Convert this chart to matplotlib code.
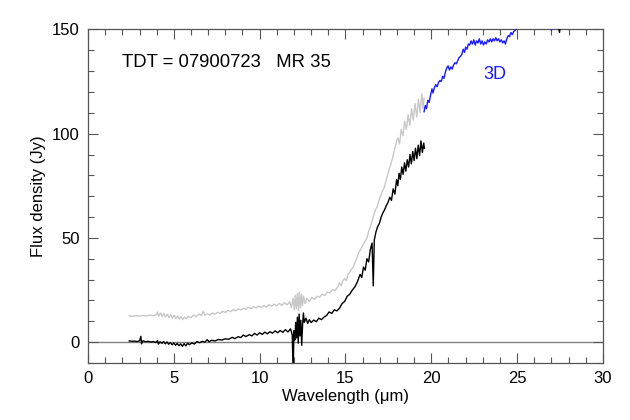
import matplotlib
matplotlib.use("Agg")
import matplotlib.pyplot as plt
from matplotlib.ticker import MultipleLocator

plt.rcParams['font.family'] = ['Liberation Sans', 'DejaVu Sans']

# SWS spectrum (black)
sws_x = [2.40, 2.55, 2.70, 2.85, 3.00, 3.08, 3.12, 3.20, 3.35, 3.50, 3.65, 3.80, 3.95, 4.05, 4.10,
         4.20, 4.30, 4.40, 4.50, 4.60, 4.70, 4.80, 4.90, 5.00, 5.10, 5.20, 5.30, 5.40, 5.50, 5.60,
         5.70, 5.80, 5.90, 6.05, 6.20, 6.35, 6.50, 6.65, 6.80, 6.95, 7.05, 7.20, 7.40, 7.60, 7.80,
         8.00, 8.20, 8.40, 8.55, 8.75, 8.90, 9.05, 9.20, 9.40, 9.55, 9.70, 9.85, 10.00, 10.15, 10.30,
         10.45, 10.60, 10.75, 10.90, 11.05, 11.20, 11.35, 11.50, 11.65, 11.80, 11.90, 11.95, 12.00,
         12.05, 12.10, 12.15, 12.20, 12.25, 12.30, 12.35, 12.40, 12.45, 12.50, 12.55, 12.60, 12.70,
         12.80, 12.90, 13.00, 13.15, 13.30, 13.45, 13.60, 13.75, 13.90, 14.05, 14.20, 14.35, 14.50,
         14.65, 14.80, 14.95, 15.10, 15.25, 15.40, 15.55, 15.70, 15.85, 15.95, 16.05, 16.15, 16.25,
         16.35, 16.45, 16.55, 16.62, 16.68, 16.78, 16.88, 16.98, 17.08, 17.18, 17.28, 17.38, 17.48,
         17.58, 17.68, 17.78, 17.88, 17.98, 18.05, 18.12, 18.20, 18.28, 18.36, 18.44, 18.52, 18.60,
         18.68, 18.76, 18.84, 18.92, 19.00, 19.08, 19.16, 19.24, 19.32, 19.40, 19.48, 19.56, 19.60]
sws_y = [0.6, 0.4, 0.5, 0.3, 0.6, 2.8, -0.8, 0.7, 0.2, 0.4, 0.1, 0.3, -0.2, 0.8, -0.9,
         0.2, -0.6, 0.3, -0.8, 0.1, -1.0, -0.2, -1.3, -0.4, -1.5, -0.6, -1.7, -0.8, -2.0, -0.7,
         -1.8, -0.5, -1.2, -0.4, -0.9, 0.3, -0.3, 0.4, 0.0, 1.2, 0.2, 0.9, 0.6, 1.3, 1.0,
         1.6, 1.4, 2.3, 1.7, 2.6, 2.2, 3.4, 2.7, 3.6, 3.0, 4.2, 3.4, 4.5, 3.7, 4.8,
         4.0, 5.0, 4.3, 5.4, 4.5, 5.6, 4.7, 6.0, 4.9, 6.4, 3.5, -15.0, 5.5,
         1.0, 9.5, 2.0, 12.0, -0.5, 13.5, 3.0, 10.5, -1.5, 8.0, 14.0, 9.5, 11.5,
         9.0, 10.8, 9.4, 10.6, 9.8, 11.5, 10.8, 12.0, 12.8, 14.5, 13.8, 15.5, 15.0,
         16.2, 18.5, 19.5, 22.0, 23.0, 25.0, 26.5, 29.0, 32.5, 31.0, 36.0, 34.5, 40.0,
         38.5, 44.5, 47.5, 27.0, 49.0, 53.0, 55.5, 57.0, 60.0, 62.0, 63.5, 65.5, 67.0,
         69.5, 68.0, 73.5, 71.0, 78.0, 75.0, 81.0, 78.0, 84.0, 80.5, 86.0, 82.0, 87.5,
         84.0, 90.0, 85.5, 91.5, 87.0, 93.0, 88.0, 94.5, 89.5, 96.5, 91.0, 95.5, 93.0]

# Grey spectrum
grey_x = [2.40, 2.60, 2.80, 3.00, 3.20, 3.40, 3.60, 3.80, 4.00, 4.05, 4.12, 4.22, 4.32, 4.42, 4.52,
          4.62, 4.72, 4.82, 4.92, 5.02, 5.12, 5.22, 5.32, 5.42, 5.52, 5.62, 5.72, 5.85, 6.00, 6.15,
          6.30, 6.45, 6.60, 6.72, 6.80, 6.95, 7.10, 7.25, 7.40, 7.55, 7.70, 7.85, 8.00, 8.15, 8.30,
          8.45, 8.60, 8.75, 8.90, 9.05, 9.20, 9.35, 9.50, 9.65, 9.80, 9.95, 10.10, 10.25, 10.40,
          10.55, 10.70, 10.85, 11.00, 11.15, 11.30, 11.45, 11.60, 11.75, 11.85, 11.95, 12.02, 12.08,
          12.14, 12.20, 12.26, 12.32, 12.38, 12.44, 12.50, 12.56, 12.65, 12.75, 12.90, 13.05, 13.20,
          13.35, 13.50, 13.65, 13.80, 13.95, 14.10, 14.25, 14.40, 14.55, 14.65, 14.75, 14.85, 14.95,
          15.05, 15.15, 15.25, 15.35, 15.45, 15.55, 15.65, 15.75, 15.85, 15.95, 16.05, 16.15, 16.25,
          16.35, 16.45, 16.55, 16.65, 16.75, 16.85, 16.95, 17.05, 17.15, 17.25, 17.35, 17.45, 17.55,
          17.65, 17.75, 17.85, 17.95, 18.05, 18.15, 18.25, 18.35, 18.45, 18.55, 18.65, 18.75, 18.85,
          18.95, 19.05, 19.15, 19.25, 19.35, 19.45, 19.52, 19.58]
grey_y = [12.6, 12.4, 12.7, 12.5, 12.8, 12.6, 12.9, 12.7, 13.2, 14.5, 12.4, 14.0, 12.3, 13.8, 12.0,
          13.5, 11.8, 13.2, 11.5, 13.0, 11.2, 12.6, 11.0, 12.3, 10.8, 12.0, 11.2, 12.4, 11.8, 13.0,
          12.2, 13.5, 12.8, 14.8, 12.9, 13.6, 13.0, 14.0, 13.4, 14.3, 13.8, 14.8, 14.2, 15.2, 14.6,
          15.6, 15.0, 16.0, 15.4, 16.3, 15.7, 16.8, 16.0, 17.0, 16.4, 17.4, 16.6, 17.6, 16.9,
          18.0, 17.2, 18.3, 17.4, 18.6, 17.6, 19.0, 17.8, 19.4, 16.5, 21.0, 15.5, 22.5,
          16.0, 23.5, 15.0, 24.0, 16.5, 23.0, 17.5, 22.0, 18.5, 21.0, 19.5, 21.5, 20.5,
          22.0, 21.6, 23.0, 22.4, 24.0, 23.6, 25.2, 24.8, 26.5, 28.5, 27.0, 29.5, 30.5,
          29.5, 32.5, 33.5, 35.0, 36.0, 38.0, 40.0, 42.5, 44.0, 45.5, 47.0, 48.5, 50.0,
          53.0, 55.5, 58.0, 61.0, 63.5, 65.0, 68.0, 70.0, 72.5, 74.0, 77.0, 80.0, 83.0,
          85.5, 88.5, 92.0, 95.5, 98.0, 95.0, 102.0, 99.0, 106.0, 102.0, 109.0, 104.0, 112.0,
          106.5, 114.5, 108.0, 116.5, 110.0, 119.0, 112.0, 117.0]

# LWS spectrum (blue)
lws_x = [19.58, 19.65, 19.72, 19.80, 19.88, 19.96, 20.04, 20.10, 20.18, 20.26, 20.34, 20.42, 20.50,
         20.58, 20.66, 20.74, 20.82, 20.90, 20.98, 21.06, 21.14, 21.22, 21.30, 21.38, 21.46, 21.54,
         21.62, 21.70, 21.78, 21.86, 21.94, 22.00, 22.08, 22.16, 22.24, 22.32, 22.40, 22.48, 22.56,
         22.64, 22.72, 22.80, 22.88, 22.96, 23.04, 23.12, 23.20, 23.28, 23.36, 23.44, 23.52, 23.60,
         23.68, 23.76, 23.84, 23.92, 24.00, 24.08, 24.16, 24.24, 24.32, 24.40, 24.48, 24.56, 24.64,
         24.72, 24.80, 24.88, 24.96, 25.04, 25.20, 25.50, 26.00, 26.50, 26.90, 26.98, 27.04, 27.50]
lws_y = [110.5, 113.5, 112.0, 116.0, 115.0, 118.5, 121.5, 119.5, 122.0, 123.5, 122.5, 124.5, 125.5,
         125.0, 127.5, 126.5, 129.5, 131.5, 132.5, 130.5, 132.0, 131.0, 133.0, 134.0, 133.5, 135.0,
         136.5, 137.0, 138.0, 140.5, 139.0, 141.5, 140.5, 143.0, 142.5, 144.5, 143.0, 145.0, 142.5,
         144.5, 143.5, 145.5, 143.0, 144.5, 142.5, 144.0, 143.0, 145.0, 144.0, 145.5, 144.0, 145.5,
         144.5, 146.0, 144.5, 145.5, 144.0, 145.0, 143.5, 144.5, 143.0, 145.5, 147.0, 146.5, 148.5,
         147.5, 149.0, 149.5, 150.5, 151.0, 152.5, 154.0, 155.0, 154.0, 152.0, 149.8, 152.0, 155.0]

# small black piece near the top
top_x = [27.40, 27.47, 27.52]
top_y = [152.0, 148.5, 152.0]

fig = plt.figure(figsize=(6.3, 4.2), dpi=100)
ax = fig.add_axes([0.1397, 0.1357, 0.8173, 0.7943])

ax.axhline(0, color='#808080', lw=1.0, zorder=1)
ax.plot(grey_x, grey_y, color='#c8c8c8', lw=1.0, zorder=2)
ax.plot(sws_x, sws_y, color='black', lw=1.0, zorder=3)
ax.plot(lws_x, lws_y, color='#1a1aff', lw=1.0, zorder=3)
ax.plot(top_x, top_y, color='black', lw=1.0, zorder=3)

ax.set_xlim(0, 30)
ax.set_ylim(-10, 150)
ax.xaxis.set_major_locator(MultipleLocator(5))
ax.xaxis.set_minor_locator(MultipleLocator(1))
ax.yaxis.set_major_locator(MultipleLocator(50))
ax.yaxis.set_minor_locator(MultipleLocator(10))
ax.tick_params(which='both', direction='in', top=True, right=True, colors='#555555',
               labelcolor='black', labelsize=12)
ax.tick_params(which='major', length=7, width=0.8)
ax.tick_params(which='minor', length=4, width=0.8)
ax.tick_params(axis='x', pad=6)
ax.tick_params(axis='y', pad=6)
for s in ax.spines.values():
    s.set_color('#555555')
    s.set_linewidth(0.9)

ax.set_xlabel('Wavelength (\u03bcm)', fontsize=12, labelpad=2)
ax.set_ylabel('Flux density (Jy)', fontsize=12, labelpad=4)

ax.text(1.98, 134, 'TDT = 07900723   MR 35', fontsize=13.3, ha='left', va='center', color='black')
ax.text(23.06, 128.5, '3D', fontsize=13, ha='left', va='center', color='#1a1aff')

fig.savefig('out.png', dpi=100)
